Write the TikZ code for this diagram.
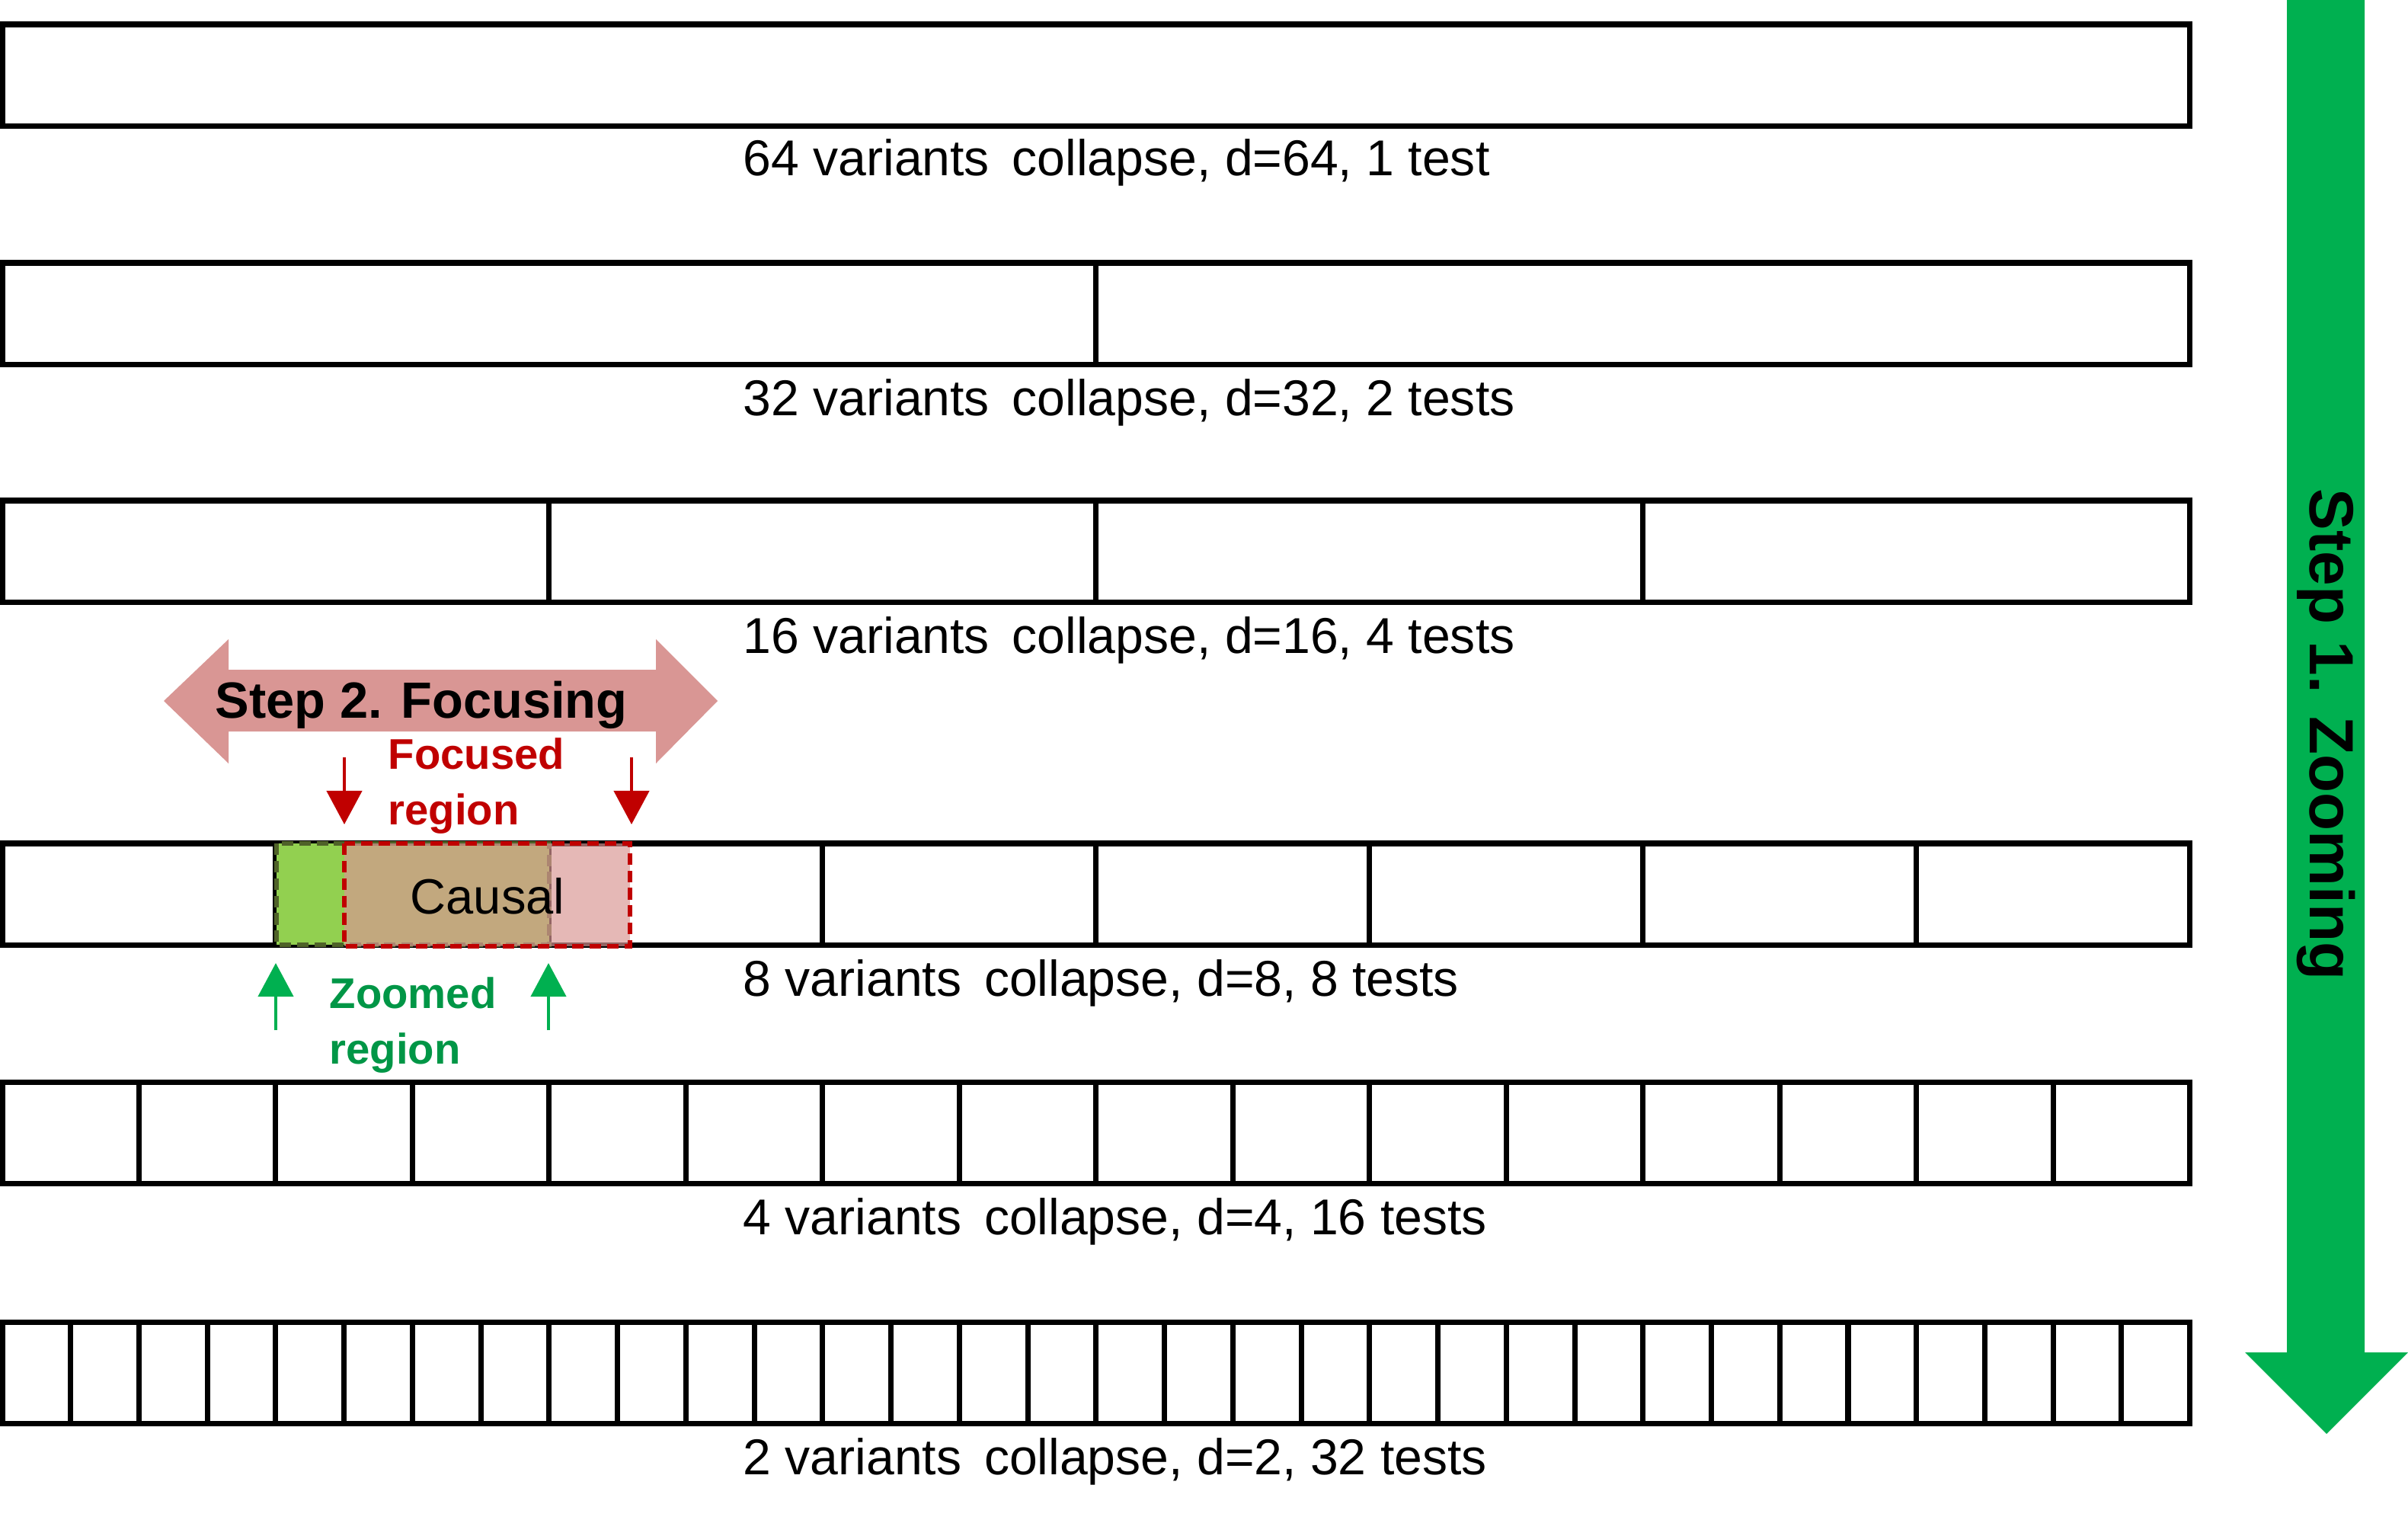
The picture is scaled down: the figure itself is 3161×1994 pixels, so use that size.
\documentclass[tikz,border=0pt]{standalone}
\usepackage{fontspec}
\setmainfont{Liberation Sans}
\usetikzlibrary{arrows.meta}
\definecolor{zoomgreen}{RGB}{0,176,80}
\definecolor{taggreen}{RGB}{0,150,70}
\definecolor{focusred}{RGB}{192,0,0}
\definecolor{focuspink}{RGB}{217,150,148}
\definecolor{zoomfill}{RGB}{146,208,80}
\definecolor{zoomedge}{RGB}{79,98,40}
\begin{document}
\begin{tikzpicture}[x=0.01cm,y=-0.01cm,
    row/.style={draw=black,line width=2pt,anchor=north west,inner sep=0pt,outer sep=0pt,
      minimum width=28.7cm,minimum height=1.33cm},
    divider/.style={draw=black,line width=2pt},
    caption/.style={anchor=base west,inner sep=0pt,font=\fontsize{18.8}{22}\selectfont},
    tag/.style={anchor=base west,inner sep=0pt,align=left,font=\bfseries\fontsize{16}{20.7}\selectfont},
    pointer/.style={line width=1.2pt,-{Triangle[width=0.46cm,length=0.44cm]}}]
  \useasboundingbox (0,0) rectangle (3161,1994);
  % zooming arrow
  \fill[zoomgreen] (3002,0) -- (3104,0) -- (3104,1775) -- (3161,1775) -- (3054,1882)
    -- (2947,1775) -- (3002,1775) -- cycle;
  \node[anchor=base west,inner sep=0pt,rotate=-90,font=\bfseries\fontsize{23.3}{28}\selectfont]
    (zoomlabel) at (3032,641) {Step 1. Zooming};
  % rows
  \node[row] (r64) at (3,32) {};
  \node[row] (r32) at (3,345) {};
  \node[row] (r16) at (3,657) {};
  \node[row] (r8) at (3,1107) {};
  \node[row] (r4) at (3,1420) {};
  \node[row] (r2) at (3,1735) {};
  \foreach \r/\n in {r32/2,r16/4,r8/8,r4/16,r2/32} {
    \pgfmathtruncatemacro\last{\n-1}
    \foreach \k in {1,...,\last}
      \draw[divider] ([xshift={\k/\n*28.7cm}]\r.north west) -- ([xshift={\k/\n*28.7cm}]\r.south west);
  }
  \node[caption] (cap64) at (975,230) {64 variants\hspace{0.45em}collapse, d=64, 1 test};
  \node[caption] (cap32) at (975,545) {32 variants\hspace{0.45em}collapse, d=32, 2 tests};
  \node[caption] (cap16) at (975,857) {16 variants\hspace{0.45em}collapse, d=16, 4 tests};
  \node[caption] (cap8) at (975,1307) {8 variants\hspace{0.45em}collapse, d=8, 8 tests};
  \node[caption] (cap4) at (975,1620) {4 variants\hspace{0.45em}collapse, d=4, 16 tests};
  \node[caption] (cap2) at (975,1935) {2 variants\hspace{0.45em}collapse, d=2, 32 tests};
  % zoomed and focused regions
  \filldraw[fill=zoomfill,draw=zoomedge,line width=1.6pt,dash pattern=on 4.3pt off 2.2pt]
    (363,1107) rectangle (721,1240);
  \filldraw[fill=focuspink,fill opacity=0.68,draw=focusred,draw opacity=1,line width=1.6pt,
    dash pattern=on 4.3pt off 2.2pt] (452,1107) rectangle (827,1242);
  \node[anchor=base,inner sep=0pt,font=\fontsize{18.5}{22}\selectfont] (causal) at (640,1199) {Causal};
  % focusing arrow
  \fill[focuspink] (215,920) -- (300,839) -- (300,879) -- (861,879) -- (861,839) -- (942,920)
    -- (861,1002) -- (861,960) -- (300,960) -- (300,1002) -- cycle;
  \node[anchor=base west,inner sep=0pt,font=\bfseries\fontsize{19}{23}\selectfont]
    (focuslabel) at (282,942) {Step 2. Focusing};
  \node[tag,text=focusred] (focustag) at (509,1082) {Focused\\region};
  \node[tag,text=taggreen] (zoomtag) at (432,1396) {Zoomed\\region};
  \coordinate (fa) at (452,994);
  \coordinate (fb) at (829,994);
  \coordinate (fa1) at (452,1082);
  \coordinate (fb1) at (829,1082);
  \coordinate (za) at (362,1352);
  \coordinate (zb) at (720,1352);
  \coordinate (za1) at (362,1264);
  \coordinate (zb1) at (720,1264);
  \draw[pointer,focusred] (fa) -- (fa1);
  \draw[pointer,focusred] (fb) -- (fb1);
  \draw[pointer,zoomgreen] (za) -- (za1);
  \draw[pointer,zoomgreen] (zb) -- (zb1);
\end{tikzpicture}
\end{document}
